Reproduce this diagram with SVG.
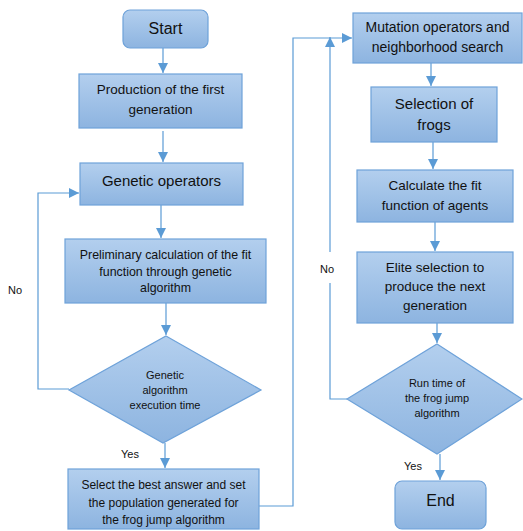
<svg xmlns="http://www.w3.org/2000/svg" width="523" height="531" viewBox="0 0 523 531">
<style>
.box{fill:url(#g);stroke:#6ea2d9;stroke-width:1.2}
.ln{fill:none;stroke:#5b9bd5;stroke-width:1.2}
.t{font-family:"Liberation Sans",Arial,sans-serif;fill:#111;text-anchor:middle}
.lb{font-family:"Liberation Sans",Arial,sans-serif;fill:#111;font-size:11px}
</style>
<defs>
<linearGradient id="g" x1="0" y1="0" x2="0" y2="1">
<stop offset="0" stop-color="#b3cfee"/>
<stop offset="1" stop-color="#8db4e0"/>
</linearGradient>
<marker id="a" viewBox="0 0 10 10" refX="10" refY="5" markerWidth="10" markerHeight="10" markerUnits="userSpaceOnUse" orient="auto">
<path d="M0,0L10,5L0,10z" fill="#5b9bd5"/>
</marker>
</defs>
<rect width="523" height="531" fill="#fff"/>
<g id="connectors">
<line class="ln" x1="163" y1="48" x2="163" y2="73" marker-end="url(#a)"/>
<line class="ln" x1="163" y1="131" x2="163" y2="162" marker-end="url(#a)"/>
<line class="ln" x1="161" y1="205" x2="161" y2="238" marker-end="url(#a)"/>
<line class="ln" x1="166" y1="303" x2="166" y2="335" marker-end="url(#a)"/>
<polyline class="ln" points="69,389 38,389 38,193 79,193" marker-end="url(#a)"/>
<line class="ln" x1="165" y1="443" x2="165" y2="468" marker-end="url(#a)"/>
<polyline class="ln" points="259,506 293,506 293,38 352,38" marker-end="url(#a)"/>
<polyline class="ln" points="347,399 330,399 330,283"/>
<line class="ln" x1="330" y1="252" x2="330" y2="37" marker-end="url(#a)"/>
<line class="ln" x1="431" y1="63" x2="431" y2="86" marker-end="url(#a)"/>
<line class="ln" x1="433" y1="142" x2="433" y2="169" marker-end="url(#a)"/>
<line class="ln" x1="435" y1="222" x2="435" y2="251" marker-end="url(#a)"/>
<line class="ln" x1="437" y1="323" x2="437" y2="343" marker-end="url(#a)"/>
<line class="ln" x1="440" y1="454" x2="440" y2="480" marker-end="url(#a)"/>
<text class="lb" x="8" y="294">No</text>
<text class="lb" x="320" y="273">No</text>
<text class="lb" x="121" y="458">Yes</text>
<text class="lb" x="404" y="470">Yes</text>
</g>
<g id="start">
<rect class="box" x="123" y="10" width="85" height="38" rx="7"/>
<text class="t" x="165.5" y="34" font-size="16">Start</text>
</g>
<g id="production">
<rect class="box" x="79" y="74" width="163" height="54"/>
<text class="t" x="160.5" y="94" font-size="13.5">Production of the first</text>
<text class="t" x="160.5" y="114" font-size="13.5">generation</text>
</g>
<g id="genetic">
<rect class="box" x="80" y="163" width="163" height="42"/>
<text class="t" x="161.5" y="186" font-size="15">Genetic operators</text>
</g>
<g id="preliminary">
<rect class="box" x="65" y="239" width="201" height="64"/>
<text class="t" x="165.5" y="259" font-size="12.4">Preliminary calculation of the fit</text>
<text class="t" x="165.5" y="276" font-size="12.4">function through genetic</text>
<text class="t" x="165.5" y="292" font-size="12.4">algorithm</text>
</g>
<g id="decision1">
<polygon class="box" points="166,336 261,390 163,443 69,390"/>
<text class="t" x="165" y="379" font-size="11">Genetic</text>
<text class="t" x="165" y="394" font-size="11">algorithm</text>
<text class="t" x="165" y="409" font-size="11">execution time</text>
</g>
<g id="select">
<rect class="box" x="68" y="469" width="191" height="60"/>
<text class="t" x="163.5" y="489" font-size="12">Select the best answer and set</text>
<text class="t" x="163.5" y="507" font-size="12">the population generated for</text>
<text class="t" x="163.5" y="524" font-size="12">the frog jump algorithm</text>
</g>
<g id="mutation">
<rect class="box" x="353" y="13" width="169" height="50"/>
<text class="t" x="437.5" y="32" font-size="14">Mutation operators and</text>
<text class="t" x="437.5" y="52" font-size="14">neighborhood search</text>
</g>
<g id="selection">
<rect class="box" x="371" y="87" width="126" height="55"/>
<text class="t" x="434" y="109" font-size="15">Selection of</text>
<text class="t" x="434" y="130" font-size="15">frogs</text>
</g>
<g id="calculate">
<rect class="box" x="357" y="170" width="156" height="52"/>
<text class="t" x="435" y="190" font-size="13.5">Calculate the fit</text>
<text class="t" x="435" y="210" font-size="13.5">function of agents</text>
</g>
<g id="elite">
<rect class="box" x="357" y="252" width="156" height="71"/>
<text class="t" x="435" y="272" font-size="13.5">Elite selection to</text>
<text class="t" x="435" y="291" font-size="13.5">produce the next</text>
<text class="t" x="435" y="310" font-size="13.5">generation</text>
</g>
<g id="decision2">
<polygon class="box" points="437,344 522,399 437,454 347,399"/>
<text class="t" x="437" y="387" font-size="11">Run time of</text>
<text class="t" x="437" y="402" font-size="11">the frog jump</text>
<text class="t" x="437" y="417" font-size="11">algorithm</text>
</g>
<g id="end">
<rect class="box" x="395" y="481" width="91" height="48" rx="7"/>
<text class="t" x="440.5" y="506" font-size="16">End</text>
</g>
</svg>
